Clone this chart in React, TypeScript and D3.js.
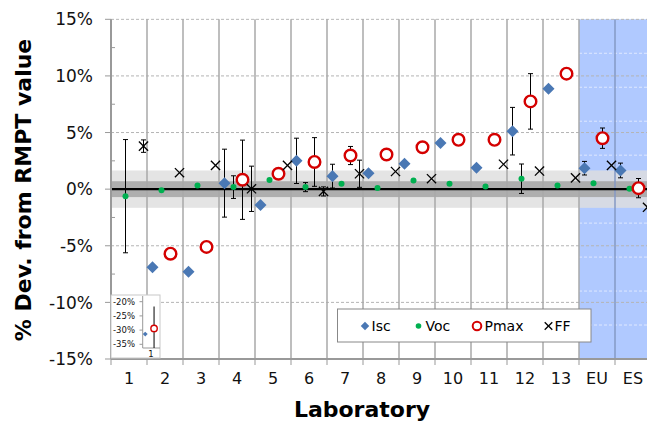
import React from "react";
import * as d3 from "d3";

const labs = ["1", "2", "3", "4", "5", "6", "7", "8", "9", "10", "11", "12", "13", "EU", "ES"];
const series = ["Isc", "Voc", "Pmax", "FF"];

// % deviation per laboratory; null = not plotted on the main axis
const isc = [null, -6.9, -7.3, 0.53, -1.4, 2.5, 1.15, 1.41, 2.24, 4.07, 1.9, 5.12, 8.87, 1.85, 1.65];
const iscErr = [null, null, null, 3.0, null, 2.0, 1.05, null, null, null, null, 2.1, null, 0.6, 0.65];
const voc = [-0.62, -0.1, 0.33, 0.18, 0.8, 0.18, 0.48, 0.1, 0.77, 0.47, 0.24, 0.92, 0.33, 0.53, 0.03];
const vocErr = [5.0, null, null, 1.0, null, 0.4, null, null, null, null, null, 1.3, null, null, null];
const pmax = [null, -5.7, -5.1, 0.83, 1.36, 2.4, 2.97, 3.06, 3.7, 4.36, 4.36, 7.75, 10.2, 4.5, 0.09];
const pmaxErr = [null, null, null, 3.5, null, 2.15, 0.8, null, null, null, null, 2.45, null, 0.9, 0.85];
const ff = [3.8, 1.45, 2.1, 0.03, 2.1, -0.2, 1.36, 1.56, 0.92, null, 2.2, 1.6, 1.0, 2.1, -1.6];
const ffErr = [0.55, null, null, 2.0, null, 0.4, 1.2, null, null, null, null, null, null, null, null];

// lab 1 Isc / Pmax are far off scale, shown in the little inset
const insetIsc = -31.4;
const insetPmax = -29.4;
const insetPmaxErr = 7.7;

const yTicks = [15, 10, 5, 0, -5, -10, -15];
const insetTicks = [-20, -25, -30, -35];
const blueLines = [12, 9, 6, 3, -3, -6, -9, -12];
const bandInner = 0.7;
const bandOuter = 1.65;

const W = 647;
const H = 423;
const FONT = "Verdana, 'DejaVu Sans', sans-serif";

const BLUE = "#4a78b4";
const GREEN = "#00b050";
const RED = "#d40000";

function Diamond({ x, y, s }: { x: number; y: number; s: number }) {
  const p = d3.symbol(d3.symbolSquare, s * s)() ?? "";
  return <path d={p} transform={`translate(${x},${y}) rotate(45)`} fill={BLUE} />;
}

function Cross({ x, y, r }: { x: number; y: number; r: number }) {
  return (
    <g stroke="#000" strokeWidth={1.3}>
      <line x1={x - r} y1={y - r} x2={x + r} y2={y + r} />
      <line x1={x - r} y1={y + r} x2={x + r} y2={y - r} />
    </g>
  );
}

function ErrBar({ x, y0, y1 }: { x: number; y0: number; y1: number }) {
  const c = 2.5;
  return (
    <g stroke="#000" strokeWidth={1}>
      <line x1={x} x2={x} y1={y0} y2={y1} />
      <line x1={x - c} x2={x + c} y1={y0} y2={y0} />
      <line x1={x - c} x2={x + c} y1={y1} y2={y1} />
    </g>
  );
}

export default function App() {
  const left = 111;
  const top = 19.3;
  const bottom = 359;
  const x = d3.scaleBand<string>().domain(labs).range([left, left + 36 * labs.length]);
  const off = d3.scalePoint<string>().domain(series).range([1, 37]).padding(0.5);
  const y = d3.scaleLinear().domain([-15, 15]).range([bottom, top]);
  const right = W;
  const blueX = x("EU")!;

  const px = (i: number, s: string) => x(labs[i])! + off(s)!;

  // inset geometry
  const inL = 111, inT = 295, inR = 160, inB = 358;
  const iy = d3.scaleLinear().domain([-36.3, -18]).range([348, 296]);
  const ix = d3.scalePoint<string>().domain(series).range([142.7, 160]).padding(0.1);

  const errGroups: [(number | null)[], (number | null)[], string][] = [
    [isc, iscErr, "Isc"],
    [voc, vocErr, "Voc"],
    [pmax, pmaxErr, "Pmax"],
    [ff, ffErr, "FF"],
  ];

  return (
    <svg width={W} height={H} style={{ position: "absolute", left: 0, top: 0, fontFamily: FONT }}>
      <defs>
        <clipPath id="plot">
          <rect x={left} y={top - 1} width={right - left} height={bottom - top + 2} />
        </clipPath>
      </defs>
      <rect width={W} height={H} fill="#fff" />

      <g clipPath="url(#plot)">
        <rect x={blueX} y={top} width={right - blueX} height={bottom - top} fill="#b0c9ff" />
        {yTicks.filter((t) => t !== 0 && t !== -15).map((t) => (
          <line key={t} x1={left} x2={right} y1={y(t)} y2={y(t)} stroke="#b4b4b4" strokeDasharray="3,2" />
        ))}
        {blueLines.map((t) => (
          <line key={t} x1={blueX} x2={right} y1={y(t)} y2={y(t)} stroke="#dfe8ff" strokeDasharray="3,2" />
        ))}
        <rect x={left} y={y(bandOuter)} width={right - left} height={y(-bandOuter) - y(bandOuter)} fill="rgba(222,222,222,0.82)" />
        <rect x={left} y={y(bandInner)} width={right - left} height={y(-bandInner) - y(bandInner)} fill="rgba(160,160,160,0.8)" />
        {labs.slice(1).map((l) => (
          <line
            key={l}
            x1={x(l)}
            x2={x(l)}
            y1={top}
            y2={bottom}
            stroke={l === "ES" ? "#8599c4" : "#a8a8a8"}
            strokeWidth={1.5}
          />
        ))}
        <line x1={left} x2={right} y1={y(0)} y2={y(0)} stroke="#000" strokeWidth={2.2} />

        {/* error bars */}
        {errGroups.map(([vals, e, s]) =>
          vals.map((v, i) =>
            v != null && e[i] != null ? (
              <ErrBar key={s + i} x={px(i, s)} y0={y(v + e[i]!)} y1={y(v - e[i]!)} />
            ) : null,
          ),
        )}

        {isc.map((v, i) => (v != null ? <Diamond key={"i" + i} x={px(i, "Isc")} y={y(v)} s={8.5} /> : null))}
        {voc.map((v, i) => (v != null ? <circle key={"v" + i} cx={px(i, "Voc")} cy={y(v)} r={3} fill={GREEN} /> : null))}
        {pmax.map((v, i) =>
          v != null ? (
            <circle key={"p" + i} cx={px(i, "Pmax")} cy={y(v)} r={5.8} fill="#fff" stroke={RED} strokeWidth={2.4} />
          ) : null,
        )}
        {ff.map((v, i) => (v != null ? <Cross key={"f" + i} x={px(i, "FF")} y={y(v)} r={4.6} /> : null))}
      </g>

      {/* axes */}
      <line x1={left} x2={left} y1={top} y2={bottom} stroke="#999" strokeWidth={2} />
      <line x1={left} x2={right} y1={bottom} y2={bottom} stroke="#999" strokeWidth={2} />
      {yTicks.map((t) => (
        <g key={t}>
          <line x1={left - 6} x2={left} y1={y(t)} y2={y(t)} stroke="#999" />
          <text x={93} y={y(t)} dy="0.36em" textAnchor="end" fontSize={17} fill="#111">
            {t}%
          </text>
        </g>
      ))}
      {d3.range(-12.5, 15, 5).map((t) => (
        <line key={t} x1={left} x2={left + 4} y1={y(t)} y2={y(t)} stroke="#999" />
      ))}
      {labs.map((l) => (
        <g key={l}>
          <line x1={x(l)} x2={x(l)} y1={bottom} y2={bottom + 6} stroke="#999" />
          <text x={x(l)! + x.bandwidth() / 2} y={384} textAnchor="middle" fontSize={16} fill="#111">
            {l}
          </text>
        </g>
      ))}

      {/* inset for off-scale lab 1 values */}
      <rect x={inL} y={inT} width={inR - inL} height={inB - inT} fill="#fff" stroke="#c8c8c8" />
      <line x1={142.7} x2={142.7} y1={296} y2={348} stroke="#999" />
      <line x1={142.7} x2={inR} y1={348} y2={348} stroke="#999" />
      {insetTicks.map((t) => (
        <g key={t}>
          <line x1={139.5} x2={142.7} y1={iy(t)} y2={iy(t)} stroke="#999" />
          <text x={135} y={iy(t)} dy="0.36em" textAnchor="end" fontSize={8.5} fill="#111">
            {t}%
          </text>
        </g>
      ))}
      <text x={151} y={357} textAnchor="middle" fontSize={8.5} fill="#111">
        1
      </text>
      <line x1={ix("Pmax")} x2={ix("Pmax")} y1={iy(insetPmax + insetPmaxErr)} y2={iy(-36.3)} stroke="#000" />
      <path
        d={d3.symbol(d3.symbolSquare, 12)() ?? ""}
        transform={`translate(${ix("Isc")! + 2},${iy(insetIsc)}) rotate(45)`}
        fill={BLUE}
      />
      <circle cx={ix("Pmax")} cy={iy(insetPmax)} r={3.2} fill="#fff" stroke={RED} strokeWidth={1.4} />

      {/* legend */}
      <rect x={337.5} y={309} width={253.5} height={33} fill="#fff" stroke="#888" />
      <Diamond x={365} y={326} s={6} />
      <text x={371.5} y={331} fontSize={14} fill="#000">Isc</text>
      <circle cx={418.5} cy={326} r={2.8} fill={GREEN} />
      <text x={425.5} y={331} fontSize={14} fill="#000">Voc</text>
      <circle cx={477} cy={326} r={4.3} fill="#fff" stroke={RED} strokeWidth={2} />
      <text x={484.5} y={331} fontSize={14} fill="#000">Pmax</text>
      <Cross x={548.5} y={326} r={3.8} />
      <text x={554.5} y={331} fontSize={14} fill="#000">FF</text>

      {/* titles */}
      <text
        transform="translate(31,190) rotate(-90)"
        textAnchor="middle"
        fontSize={22}
        fontWeight="bold"
        fill="#000"
      >
        % Dev. from RMPT value
      </text>
      <text x={362} y={417} textAnchor="middle" fontSize={22} fontWeight="bold" fill="#000">
        Laboratory
      </text>
    </svg>
  );
}
